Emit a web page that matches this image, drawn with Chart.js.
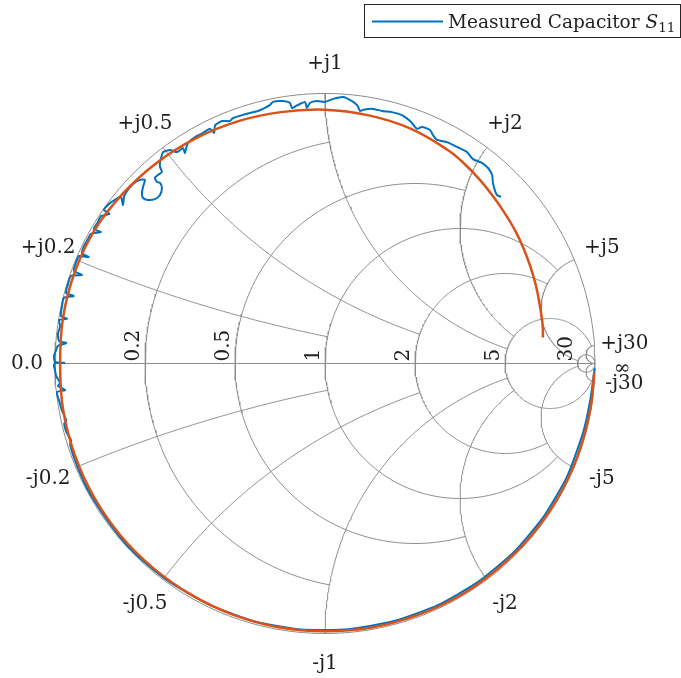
<!DOCTYPE html>
<html>
<head>
<meta charset="utf-8">
<title>Measured Capacitor S11</title>
<script src="https://cdn.jsdelivr.net/npm/chart.js@4.4.1/dist/chart.umd.min.js"></script>
<style>
  html, body { margin: 0; padding: 0; background: #ffffff; }
  canvas { display: block; }
</style>
</head>
<body>
<canvas id="smith" width="681" height="678"></canvas>
<script>
// Smith chart grid: constant-resistance circles and constant-reactance arcs,
// each with the value of the other family at which it stops.
const resistanceValues = [0.2, 0.5, 1, 2, 5, 30];
const resistanceStops  = [1, 2, 5, 5, 30, Infinity];
const reactanceValues  = [0.2, 0.5, 1, 2, 5, 30];
const reactanceStops   = [1, 2, 5, 5, 30, Infinity];

// Axis labels
const resistanceLabels = ['0.2', '0.5', '1', '2', '5', '30'];
const reactanceLabels  = ['0.2', '0.5', '1', '2', '5', '30'];
const zeroLabel = '0.0';
const infinityLabel = '\u221E';
const legendText = 'Measured Capacitor ';

// Fitted capacitor model, reflection coefficient (real, imaginary)
const modelRe = [0.997, 0.982, 0.936, 0.862, 0.762, 0.639, 0.497, 0.340, 0.172, 0.000,
  -0.172, -0.339, -0.495, -0.636, -0.758, -0.856, -0.927, -0.970, -0.981,
  -0.970, -0.927, -0.854, -0.749, -0.624, -0.481, -0.326, -0.164, 0.000,
  0.162, 0.317, 0.456, 0.517, 0.572, 0.621, 0.665, 0.704, 0.736, 0.762, 0.782, 0.796, 0.806, 0.807];
const modelIm = [-0.035, -0.173, -0.341, -0.498, -0.640, -0.761, -0.861, -0.933, -0.978, -0.992,
  -0.977, -0.931, -0.857, -0.758, -0.636, -0.494, -0.338, -0.171, 0.000,
  0.171, 0.338, 0.493, 0.629, 0.743, 0.833, 0.896, 0.931, 0.940,
  0.919, 0.870, 0.790, 0.739, 0.682, 0.621, 0.558, 0.493, 0.425, 0.355, 0.285, 0.213, 0.142, 0.096];

// Measured S11 of the capacitor (real, imaginary)
const measuredRe = [
  0.999, 0.982, 0.956, 0.897, 0.810, 0.699, 0.567, 0.418, 0.256, 0.086,
  -0.086, -0.256, -0.419, -0.570, -0.665, -0.740, -0.814, -0.879, -0.921, -0.944,
  -0.940, -0.957, -0.966, -0.958, -0.975, -0.984,
  -0.993, -0.962, -0.989, -0.981, -0.996, -1.000, -1.004, -1.000, -0.965, -1.000,
  -1.004, -0.996, -0.989, -0.958, -0.985, -0.989, -0.981, -0.985, -0.955, -0.978,
  -0.974, -0.967, -0.930, -0.959, -0.952, -0.941, -0.900, -0.930, -0.922, -0.911,
  -0.875, -0.900, -0.893, -0.878, -0.867, -0.830, -0.856, -0.841, -0.830, -0.798,
  -0.819, -0.800, -0.774, -0.756, -0.748, -0.744, -0.730, -0.711, -0.685, -0.667,
  -0.674, -0.678, -0.674, -0.656, -0.630, -0.611, -0.604, -0.611, -0.622, -0.630,
  -0.619, -0.604, -0.611, -0.611, -0.604, -0.600, -0.574, -0.548, -0.526, -0.519,
  -0.511, -0.500, -0.474, -0.452, -0.426, -0.411, -0.407, -0.381, -0.352, -0.341,
  -0.307, -0.278, -0.248, -0.230, -0.204, -0.193, -0.159, -0.130, -0.122, -0.107,
  -0.093, -0.074, -0.067, -0.056, -0.030, 0.000, 0.030, 0.067, 0.100, 0.119,
  0.130, 0.141, 0.178, 0.211, 0.248, 0.285, 0.315, 0.341, 0.359, 0.389,
  0.400, 0.415, 0.452, 0.489, 0.526, 0.548, 0.581, 0.604, 0.619, 0.622,
  0.630, 0.637, 0.652];
const measuredIm = [
  -0.017, -0.138, -0.256, -0.418, -0.567, -0.699, -0.809, -0.895, -0.954, -0.984,
  -0.985, -0.956, -0.898, -0.813, -0.739, -0.666, -0.570, -0.467, -0.372, -0.300,
  -0.285, -0.256, -0.222, -0.212, -0.172, -0.140,
  -0.106, -0.098, -0.083, -0.072, -0.046, -0.024, -0.009, 0.002, 0.002, 0.006,
  0.028, 0.050, 0.065, 0.076, 0.083, 0.109, 0.139, 0.161, 0.165, 0.176,
  0.213, 0.243, 0.250, 0.261, 0.294, 0.324, 0.328, 0.343, 0.376, 0.398,
  0.394, 0.409, 0.435, 0.461, 0.480, 0.487, 0.498, 0.524, 0.546, 0.554,
  0.569, 0.591, 0.609, 0.617, 0.587, 0.620, 0.643, 0.665, 0.680, 0.680,
  0.654, 0.631, 0.613, 0.606, 0.609, 0.624, 0.650, 0.669, 0.672, 0.687,
  0.698, 0.709, 0.728, 0.746, 0.772, 0.783, 0.791, 0.783, 0.798, 0.780,
  0.809, 0.824, 0.843, 0.854, 0.869, 0.854, 0.883, 0.898, 0.898, 0.909,
  0.920, 0.928, 0.935, 0.943, 0.957, 0.969, 0.972, 0.965, 0.946, 0.954,
  0.961, 0.969, 0.946, 0.965, 0.972, 0.969, 0.980, 0.987, 0.972, 0.957,
  0.935, 0.939, 0.943, 0.935, 0.931, 0.920, 0.898, 0.869, 0.876, 0.865,
  0.846, 0.828, 0.820, 0.802, 0.783, 0.757, 0.743, 0.724, 0.698, 0.669,
  0.639, 0.624, 0.617];

const BLUE = '#0072BD';
const ORANGE = '#D95319';
const GRID = '#8c8c8c';
const TEXT = '#1f1f1f';
const LABEL_FONT = '20px "DejaVu Serif", serif';

// Normalized impedance r + jx -> reflection coefficient
function gamma(r, x) {
  const d = (r + 1) * (r + 1) + x * x;
  return { x: (r * r + x * x - 1) / d, y: 2 * x / d };
}

function resistanceCircle(r, stop) {
  const c = r / (1 + r), rho = 1 / (1 + r);
  let a0 = 0;
  if (isFinite(stop)) {
    const p = gamma(r, stop);
    a0 = Math.atan2(p.y, p.x - c);
  }
  const pts = [], n = 240;
  for (let i = 0; i <= n; i++) {
    const a = a0 + (2 * Math.PI - 2 * a0) * i / n;
    pts.push({ x: c + rho * Math.cos(a), y: rho * Math.sin(a) });
  }
  return pts;
}

function reactanceArc(x, stop) {
  const cy = 1 / x, rho = Math.abs(1 / x);
  const p0 = gamma(0, x);
  const p1 = isFinite(stop) ? gamma(stop, x) : { x: 1, y: 0 };
  const a0 = Math.atan2(p0.y - cy, p0.x - 1);
  let a1 = Math.atan2(p1.y - cy, p1.x - 1);
  if (x > 0 && a1 < a0) a1 += 2 * Math.PI;
  if (x < 0 && a1 > a0) a1 -= 2 * Math.PI;
  const pts = [], n = 160;
  for (let i = 0; i <= n; i++) {
    const a = a0 + (a1 - a0) * i / n;
    pts.push({ x: 1 + rho * Math.cos(a), y: cy + rho * Math.sin(a) });
  }
  return pts;
}

function gridSet(points) {
  return {
    data: points, showLine: true, borderColor: GRID, borderWidth: 1,
    pointRadius: 0, tension: 0, fill: false, clip: false, order: 10
  };
}

const datasets = [];
datasets.push(gridSet(resistanceCircle(0, Infinity)));
datasets.push(gridSet([{ x: -1, y: 0 }, { x: 1, y: 0 }]));
resistanceValues.forEach((r, i) => datasets.push(gridSet(resistanceCircle(r, resistanceStops[i]))));
reactanceValues.forEach((x, i) => {
  datasets.push(gridSet(reactanceArc(x, reactanceStops[i])));
  datasets.push(gridSet(reactanceArc(-x, reactanceStops[i])));
});

datasets.push({
  label: 'Measured Capacitor S11',
  data: measuredRe.map((v, i) => ({ x: v, y: measuredIm[i] })),
  showLine: true, borderColor: BLUE, borderWidth: 2, pointRadius: 0,
  tension: 0.2, fill: false, clip: false, order: 5
});
datasets.push({
  label: 'Model',
  data: modelRe.map((v, i) => ({ x: v, y: modelIm[i] })),
  showLine: true, borderColor: ORANGE, borderWidth: 2.5, pointRadius: 0,
  tension: 0.4, fill: false, clip: false, order: 1
});

// Text around the chart: reactance labels on the rim, rotated resistance labels on the real axis
const smithLabels = {
  id: 'smithLabels',
  afterDatasetsDraw(chart) {
    const { ctx } = chart;
    const sx = chart.scales.x, sy = chart.scales.y;
    const cx = sx.getPixelForValue(0), cy = sy.getPixelForValue(0);
    const R = sx.getPixelForValue(1) - cx;
    ctx.save();
    ctx.fillStyle = TEXT;
    ctx.font = LABEL_FONT;
    ctx.textAlign = 'center';
    ctx.textBaseline = 'middle';
    reactanceValues.forEach((v, i) => {
      [1, -1].forEach(s => {
        const p = gamma(0, s * v);
        const px = sx.getPixelForValue(p.x), py = sy.getPixelForValue(p.y);
        const ux = (px - cx) / R, uy = (py - cy) / R;
        ctx.fillText((s > 0 ? '+j' : '-j') + reactanceLabels[i], px + ux * 30, py + uy * 30);
      });
    });
    // r = 0 and r = infinity
    ctx.fillText(zeroLabel, sx.getPixelForValue(-1) - 28, cy);
    ctx.fillText(infinityLabel, sx.getPixelForValue(1) + 27, cy + 5);
    // resistance values, reading upward, just left of each circle
    ctx.textAlign = 'left';
    ctx.textBaseline = 'alphabetic';
    resistanceValues.forEach((r, i) => {
      const px = sx.getPixelForValue((r - 1) / (r + 1));
      ctx.save();
      ctx.translate(px - 6, cy - 2);
      ctx.rotate(-Math.PI / 2);
      ctx.fillText(resistanceLabels[i], 0, 0);
      ctx.restore();
    });
    ctx.restore();
  }
};

// Boxed legend at the top right with a subscripted S11
const boxedLegend = {
  id: 'boxedLegend',
  afterDraw(chart) {
    const { ctx } = chart;
    ctx.save();
    ctx.strokeStyle = '#262626';
    ctx.lineWidth = 1;
    ctx.fillStyle = '#ffffff';
    ctx.fillRect(364.5, 4.5, 316, 33);
    ctx.strokeRect(364.5, 4.5, 316, 33);
    ctx.strokeStyle = BLUE;
    ctx.lineWidth = 2;
    ctx.beginPath();
    ctx.moveTo(372, 21.5);
    ctx.lineTo(443, 21.5);
    ctx.stroke();
    ctx.fillStyle = TEXT;
    ctx.textAlign = 'left';
    ctx.textBaseline = 'alphabetic';
    let x = 448;
    const base = 28;
    ctx.font = '18.5px "DejaVu Serif", serif';
    ctx.fillText(legendText, x, base);
    x += ctx.measureText(legendText).width;
    ctx.font = 'italic 18.5px "DejaVu Serif", serif';
    ctx.fillText('S', x, base);
    x += ctx.measureText('S').width;
    ctx.font = '13.5px "DejaVu Serif", serif';
    ctx.fillText('11', x, base + 4);
    ctx.restore();
  }
};

new Chart(document.getElementById('smith'), {
  type: 'scatter',
  data: { datasets },
  options: {
    responsive: false,
    animation: false,
    devicePixelRatio: 1,
    layout: { padding: { left: 55, right: 86, top: 93.5, bottom: 44.5 } },
    scales: {
      x: { type: 'linear', min: -1, max: 1, display: false },
      y: { type: 'linear', min: -1, max: 1, display: false }
    },
    plugins: { legend: { display: false }, tooltip: { enabled: false } },
    events: []
  },
  plugins: [smithLabels, boxedLegend]
});
</script>
</body>
</html>
